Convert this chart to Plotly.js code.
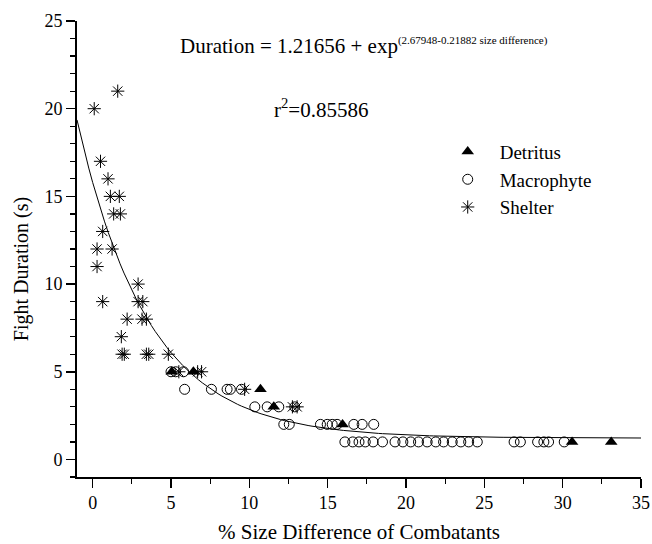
<!DOCTYPE html>
<html>
<head>
<meta charset="utf-8">
<script src="https://cdn.plot.ly/plotly-3.0.1.min.js"></script>
<style>html,body{margin:0;padding:0;background:#fff;}#chart{width:652px;height:544px;}</style>
</head>
<body>
<div id="chart"></div>
<script>
// Fit equation coefficients (as printed on chart)
var fitA = 1.21656;
var fitB = 2.67948;
var fitC = 0.21882;
var fitXMin = -1;
var fitXMax = 35;

// Detritus
var detritusX = [5.05, 6.43, 10.71, 11.56, 15.95, 30.6, 33.1];
var detritusY = [5, 5, 4, 3, 2, 1, 1];

// Macrophyte
var macroX = [5.0, 5.3, 5.8,
  5.87, 7.58, 8.58, 8.79, 9.5,
  10.35, 11.14, 11.88, 12.9,
  12.2, 12.55, 14.54, 14.97, 15.29, 15.6, 16.67, 17.2, 17.94,
  16.1, 16.6, 17.0, 17.4, 17.9, 18.5, 19.3, 19.8, 20.3, 20.8, 21.35, 21.9, 22.4, 22.95, 23.5, 24.0, 24.55,
  26.9, 27.3, 28.4, 28.8, 29.1, 30.1];
var macroY = [5, 5, 5,
  4, 4, 4, 4, 4,
  3, 3, 3, 3,
  2, 2, 2, 2, 2, 2, 2, 2, 2,
  1, 1, 1, 1, 1, 1, 1, 1, 1, 1, 1, 1, 1, 1, 1, 1, 1,
  1, 1, 1, 1, 1, 1];

// Shelter
var shelterX = [1.6, 0.1, 0.5, 0.98, 1.13, 1.7, 1.34, 1.77, 0.64, 0.28, 1.24, 0.28,
  2.9, 0.64, 2.9, 3.2, 2.2, 3.15, 3.43, 1.83,
  1.88, 2.02, 3.43, 3.58, 4.83,
  5.5, 6.7, 6.95, 9.7, 12.75, 13.05];
var shelterY = [21, 20, 17, 16, 15, 15, 14, 14, 13, 12, 12, 11,
  10, 9, 9, 9, 8, 8, 8, 7,
  6, 6, 6, 6, 6,
  5, 5, 5, 4, 3, 3];

// Tick values
var xTicks = [0, 5, 10, 15, 20, 25, 30, 35];
var yTicks = [0, 5, 10, 15, 20, 25];

var fitX = [], fitY = [];
for (var i = 0; i <= 144; i++) {
  var xv = fitXMin + (fitXMax - fitXMin) * i / 144;
  fitX.push(xv);
  fitY.push(fitA + Math.exp(fitB - fitC * xv));
}

var serif = 'Liberation Serif';

var traces = [
  {x: fitX, y: fitY, mode: 'lines', line: {color: '#000', width: 1}, showlegend: false, hoverinfo: 'skip'},
  {x: macroX, y: macroY, mode: 'markers', name: 'Macrophyte', legendrank: 2,
   marker: {symbol: 'circle-open', size: 10, color: '#000', line: {width: 1, color: '#000'}}},
  {x: shelterX, y: shelterY, mode: 'markers', name: 'Shelter', legendrank: 3,
   marker: {symbol: 'asterisk-open', size: 11, color: '#000', line: {width: 1, color: '#000'}}},
  {x: detritusX, y: detritusY, mode: 'markers', name: 'Detritus', legendrank: 1,
   marker: {symbol: 'triangle-up', size: 11, color: '#000', line: {width: 0}}}
];

var layout = {
  width: 652, height: 544,
  margin: {l: 77, r: 11, t: 21, b: 67},
  paper_bgcolor: '#fff', plot_bgcolor: '#fff',
  font: {family: serif, color: '#000', size: 16},
  showlegend: true,
  legend: {x: 0.636, y: 0.755, xanchor: 'left', yanchor: 'top', bgcolor: 'rgba(0,0,0,0)', itemwidth: 54,
           font: {family: serif, size: 19, color: '#000'}, tracegroupgap: 0},
  xaxis: {range: [-1, 35], tickvals: xTicks, ticks: 'outside', ticklen: 9, tickwidth: 1.5, tickcolor: '#000',
          minor: {dtick: 2.5, tick0: 0, ticks: 'outside', ticklen: 5, tickwidth: 1.2, tickcolor: '#000'},
          showline: true, linecolor: '#000', linewidth: 1.8, showgrid: false, zeroline: false,
          tickfont: {family: serif, size: 18, color: '#000'},
          title: {text: '% Size Difference of Combatants', font: {family: serif, size: 21, color: '#000'}, standoff: 13}},
  yaxis: {range: [-1, 25], tickvals: yTicks, ticks: 'outside', ticklen: 9, tickwidth: 1.5, tickcolor: '#000',
          minor: {dtick: 1, tick0: 0, ticks: 'outside', ticklen: 5, tickwidth: 1.2, tickcolor: '#000'},
          showline: true, linecolor: '#000', linewidth: 1.8, showgrid: false, zeroline: false,
          tickfont: {family: serif, size: 18, color: '#000'}},
  annotations: [
    {xref: 'paper', yref: 'paper', x: 0.179, y: 0.945, xanchor: 'left', yanchor: 'middle', showarrow: false,
     text: 'Duration = 1.21656 + exp<sup><span style="font-size:11px">(2.67948-0.21882 size difference)</span></sup>',
     font: {family: serif, size: 21, color: '#000'}},
    {xref: 'paper', yref: 'paper', x: 0.433, y: 0.809, xanchor: 'center', yanchor: 'middle', showarrow: false,
     text: 'r<sup>2</sup>=0.85586', font: {family: serif, size: 21, color: '#000'}},
    {xref: 'paper', yref: 'paper', x: -0.098, y: 0.455, xanchor: 'center', yanchor: 'middle', showarrow: false,
     textangle: -90, text: 'Fight Duration (s)', font: {family: serif, size: 20, color: '#000'}}
  ]
};

Plotly.newPlot('chart', traces, layout, {displayModeBar: false, staticPlot: true});
</script>
</body>
</html>
